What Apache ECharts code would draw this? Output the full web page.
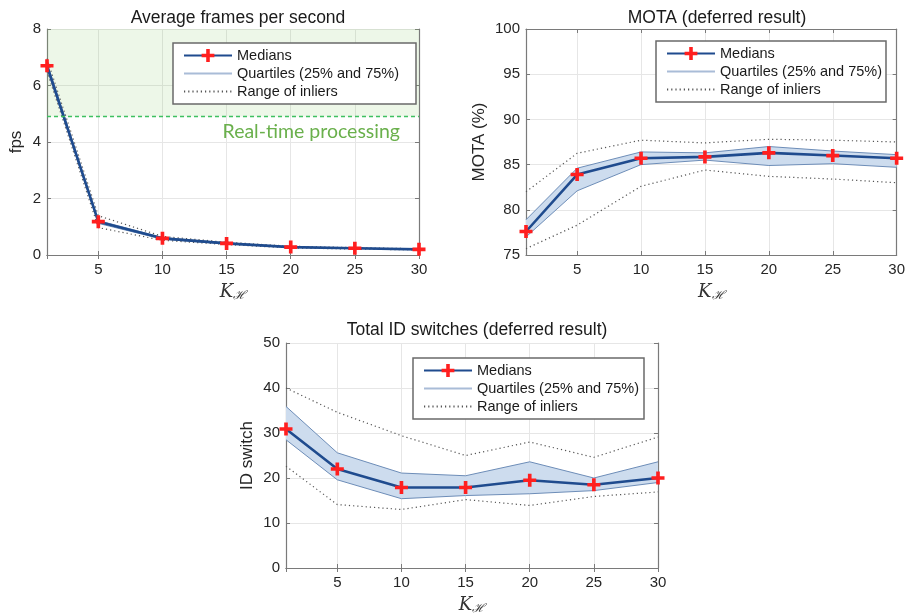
<!DOCTYPE html>
<html>
<head>
<meta charset="utf-8">
<script src="https://cdn.jsdelivr.net/npm/echarts@6/dist/echarts.min.js"></script>
<style>
  html, body { margin: 0; padding: 0; background: #fff; }
  #main { width: 908px; height: 616px; }
</style>
</head>
<body>
<div id="main"></div>
<script>
// K_H values on the x axis
var kValues = [1, 5, 10, 15, 20, 25, 30];

// average fps
var fpsMedian = [6.7, 1.18, 0.59, 0.41, 0.28, 0.24, 0.2];
var fpsQ1 = [6.6, 1.12, 0.56, 0.39, 0.27, 0.23, 0.19];
var fpsQ3 = [6.8, 1.22, 0.62, 0.43, 0.29, 0.25, 0.21];
var fpsLow = [6.5, 0.97, 0.52, 0.37, 0.25, 0.21, 0.18];
var fpsHigh = [6.95, 1.39, 0.66, 0.45, 0.31, 0.26, 0.22];
var fpsRealTime = 4.9;

// MOTA (%)
var motaMedian = [77.6, 83.9, 85.7, 85.85, 86.3, 86.0, 85.7];
var motaQ1 = [77.0, 82.1, 85.0, 85.5, 84.9, 85.1, 84.7];
var motaQ3 = [78.9, 84.6, 86.4, 86.3, 87.0, 86.5, 86.1];
var motaLow = [75.7, 78.3, 82.6, 84.4, 83.7, 83.4, 83.0];
var motaHigh = [82.0, 86.25, 87.7, 87.4, 87.8, 87.7, 87.5];

// ID switches
var idMedian = [30.9, 22.0, 17.9, 17.9, 19.5, 18.5, 20.0];
var idQ1 = [28.5, 19.6, 15.4, 16.1, 16.5, 17.2, 19.0];
var idQ3 = [35.9, 25.6, 21.1, 20.5, 23.6, 20.0, 23.6];
var idLow = [22.6, 14.1, 13.0, 15.2, 13.9, 15.9, 16.9];
var idHigh = [40.0, 34.6, 29.4, 25.0, 28.0, 24.6, 29.1];

var titles = ['Average frames per second', 'MOTA (deferred result)', 'Total ID switches (deferred result)'];
var yNames = ['fps', 'MOTA (%)', 'ID switch'];
var legendNames = ['Medians', 'Quartiles (25% and 75%)', 'Range of inliers'];

var FONT = '"Liberation Sans", Arial, sans-serif';
var AXIS_COLOR = '#7a7a7a';
var plus = 'path://M3.6,0h2.8v3.6h3.6v2.8h-3.6v3.6h-2.8v-3.6h-3.6v-2.8h3.6z';

var grids = [
  { left: 47, top: 29, width: 372, height: 226 },
  { left: 526, top: 29, width: 372, height: 226 },
  { left: 286, top: 343, width: 372, height: 225 }
];
var yRanges = [[0, 8, 2], [75, 100, 5], [0, 50, 10]];
var yNameGaps = [22, 38, 30];

function pairs(ys) {
  return kValues.map(function (k, i) { return [k, ys[i]]; });
}

var xAxes = [], yAxes = [];
grids.forEach(function (g, i) {
  xAxes.push({
    type: 'value', gridIndex: i, min: 1, max: 30, splitNumber: 6,
    name: '{k|K}{s|ℋ}', nameLocation: 'middle', nameGap: 27,
    nameTextStyle: {
      rich: {
        k: { fontFamily: '"DejaVu Serif", serif', fontStyle: 'italic', fontSize: 18, color: '#333' },
        s: { fontFamily: '"DejaVu Serif", serif', fontStyle: 'italic', fontSize: 12, color: '#333', padding: [8, 0, 0, 0] }
      }
    },
    axisLine: { lineStyle: { color: AXIS_COLOR, width: 1.2 } },
    axisTick: { inside: true, length: 4, lineStyle: { color: AXIS_COLOR } },
    axisLabel: {
      margin: 7, fontSize: 15, color: '#262626', fontFamily: FONT,
      formatter: function (v) { return v === 1 ? '' : v; }
    },
    splitLine: { show: true, lineStyle: { color: '#e6e6e6' } }
  });
  yAxes.push({
    type: 'value', gridIndex: i, min: yRanges[i][0], max: yRanges[i][1], interval: yRanges[i][2],
    name: yNames[i], nameLocation: 'middle', nameGap: yNameGaps[i],
    nameTextStyle: { fontSize: 17, color: '#262626', fontFamily: FONT },
    axisLine: { show: true, lineStyle: { color: AXIS_COLOR, width: 1.2 } },
    axisTick: { show: true, inside: true, length: 4, lineStyle: { color: AXIS_COLOR } },
    axisLabel: { margin: 6, fontSize: 15, color: '#262626', fontFamily: FONT },
    splitLine: { show: true, lineStyle: { color: '#e6e6e6' } }
  });
});
// box on top / right with inward ticks
grids.forEach(function (g, i) {
  xAxes.push({
    type: 'value', gridIndex: i, min: 1, max: 30, splitNumber: 6, position: 'top',
    axisLine: { lineStyle: { color: AXIS_COLOR, width: 1.2 } },
    axisTick: { inside: true, length: 4, lineStyle: { color: AXIS_COLOR } },
    axisLabel: { show: false }, splitLine: { show: false }
  });
  yAxes.push({
    type: 'value', gridIndex: i, min: yRanges[i][0], max: yRanges[i][1], interval: yRanges[i][2], position: 'right',
    axisLine: { show: true, lineStyle: { color: AXIS_COLOR, width: 1.2 } },
    axisTick: { show: true, inside: true, length: 4, lineStyle: { color: AXIS_COLOR } },
    axisLabel: { show: false }, splitLine: { show: false }
  });
});

function makeSeries(i, med, q1, q3, lo, hi) {
  var common = { xAxisIndex: i, yAxisIndex: i, animation: false, silent: true };
  return [
    // shaded band between the quartiles
    Object.assign({
      type: 'custom', name: 'band' + i,
      data: kValues.map(function (k, j) { return [k, q1[j], q3[j]]; }),
      encode: { x: 0, y: [1, 2] },
      renderItem: function (params, api) {
        if (params.dataIndex !== 0) return;
        var pts = [], j;
        for (j = 0; j < kValues.length; j++) pts.push(api.coord([kValues[j], q3[j]]));
        for (j = kValues.length - 1; j >= 0; j--) pts.push(api.coord([kValues[j], q1[j]]));
        return { type: 'polygon', shape: { points: pts }, style: { fill: '#cddcee' } };
      }
    }, common),
    Object.assign({ type: 'line', name: legendNames[1], data: pairs(q1), symbol: 'none',
      lineStyle: { color: '#6d8db8', width: 1 } }, common),
    Object.assign({ type: 'line', name: legendNames[1], data: pairs(q3), symbol: 'none',
      lineStyle: { color: '#6d8db8', width: 1 } }, common),
    Object.assign({ type: 'line', name: legendNames[2], data: pairs(lo), symbol: 'none',
      lineStyle: { color: '#555', width: 1.2, type: [1.2, 3] } }, common),
    Object.assign({ type: 'line', name: legendNames[2], data: pairs(hi), symbol: 'none',
      lineStyle: { color: '#555', width: 1.2, type: [1.2, 3] } }, common),
    Object.assign({ type: 'line', name: legendNames[0], data: pairs(med), symbol: plus, symbolSize: 13,
      itemStyle: { color: '#ff1f1f' }, lineStyle: { color: '#1f4b8e', width: 2.6 } }, common)
  ];
}

var series = []
  .concat(makeSeries(0, fpsMedian, fpsQ1, fpsQ3, fpsLow, fpsHigh))
  .concat(makeSeries(1, motaMedian, motaQ1, motaQ3, motaLow, motaHigh))
  .concat(makeSeries(2, idMedian, idQ1, idQ3, idLow, idHigh));

// real-time region in the fps chart
series.push({
  type: 'line', name: 'realtime', xAxisIndex: 0, yAxisIndex: 0, data: [], silent: true, animation: false,
  markArea: {
    silent: true,
    itemStyle: { color: 'rgba(130,195,90,0.14)' },
    data: [[{ yAxis: fpsRealTime }, { yAxis: 8 }]]
  },
  markLine: {
    silent: true, symbol: 'none',
    lineStyle: { color: '#3fc060', type: [4, 3], width: 1.3 },
    label: {
      position: 'insideEndBottom', formatter: 'Real-time processing',
      color: '#6ab04c', fontSize: 19.5, fontFamily: 'Lato, "Open Sans", sans-serif', distance: [19, 5]
    },
    data: [{ yAxis: fpsRealTime }]
  }
});

var legendPos = [
  { left: 173, top: 43, padRight: 17 },
  { left: 656, top: 41, padRight: 4 },
  { left: 413, top: 358, padRight: 5 }
];
var legends = legendPos.map(function (p) {
  return {
    left: p.left, top: p.top, orient: 'vertical', selectedMode: false,
    backgroundColor: '#fff', borderColor: '#6a6a6a', borderWidth: 1.5, borderRadius: 0,
    padding: [5, p.padRight, 5, 10], itemWidth: 48, itemHeight: 16, itemGap: 3,
    textStyle: { fontSize: 14.5, color: '#1a1a1a', fontFamily: FONT, padding: [0, 0, 0, 0] },
    data: [
      { name: legendNames[0] },
      { name: legendNames[1], itemStyle: { opacity: 0 }, lineStyle: { color: '#a9bcd7', width: 2 } },
      { name: legendNames[2], itemStyle: { opacity: 0 } }
    ]
  };
});

var titleCenters = [[233, 4], [712, 4], [472, 316]];
var titleOpts = titles.map(function (t, i) {
  return {
    text: t, left: titleCenters[i][0], top: titleCenters[i][1], textAlign: 'center',
    textStyle: { fontSize: 17.5, fontWeight: 'normal', color: '#1a1a1a', fontFamily: FONT }
  };
});

var myChart = echarts.init(document.getElementById('main'), null, { renderer: 'canvas' });
myChart.setOption({
  backgroundColor: '#fff',
  animation: false,
  title: titleOpts,
  legend: legends,
  grid: grids,
  xAxis: xAxes,
  yAxis: yAxes,
  series: series
});
</script>
</body>
</html>
